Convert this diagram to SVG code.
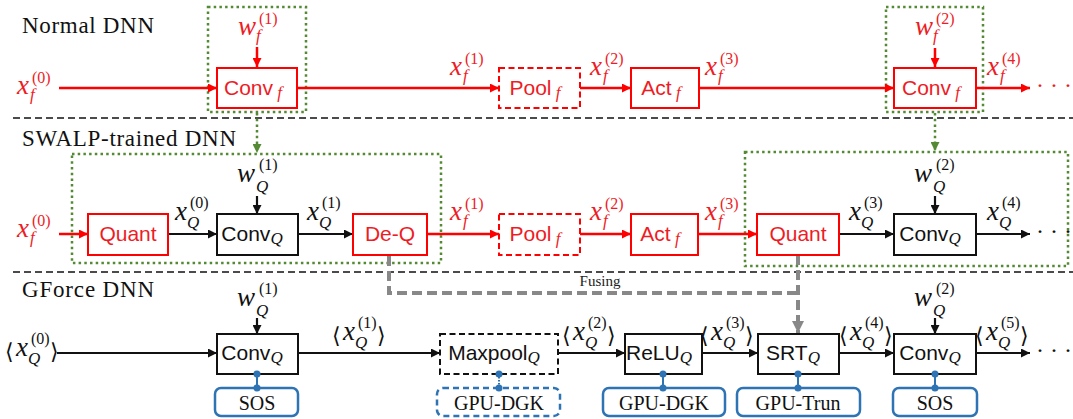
<svg xmlns="http://www.w3.org/2000/svg" width="1073" height="419" viewBox="0 0 1073 419">
<defs>
<style>
.title{font-family:"Liberation Serif",serif;font-size:23px;fill:#111}
.m{font-family:"Liberation Serif",serif;font-style:italic;font-size:27px}
.sup{font-family:"Liberation Serif",serif;font-size:16px}
.sub{font-family:"Liberation Serif",serif;font-style:italic;font-size:17px}
.br{font-family:"DejaVu Serif","DejaVu Sans",serif;font-size:22px}
.bt{font-family:"Liberation Sans","DejaVu Sans",sans-serif;font-size:21px;text-anchor:middle}
.bs{font-family:"Liberation Serif",serif;font-style:italic;font-size:17px}
.gt{font-family:"Liberation Serif",serif;font-size:20px;text-anchor:middle;fill:#111}
.red{fill:#ee1c25}
.blk{fill:#111}
.rbox{fill:#fff;stroke:#ff0000;stroke-width:2}
.kbox{fill:#fff;stroke:#111;stroke-width:2}
.dash{stroke-dasharray:6 3.5}
.green{fill:none;stroke:#558a35;stroke-width:2.5;stroke-dasharray:2.5 3.2}
.blue{fill:#fff;stroke:#2e74b5;stroke-width:2.5}
.rl{stroke:#ff0000;stroke-width:2.5;fill:none}
.kl{stroke:#111;stroke-width:2.2;fill:none}
.sep{stroke:#111;stroke-width:1.6;stroke-dasharray:7 4;fill:none}
.gray{stroke:#888;stroke-width:4;stroke-dasharray:10 5;fill:none}
.dot{fill:#2e74b5}
.bl{stroke:#2e74b5;stroke-width:2}
</style>
<marker id="ar" viewBox="0 0 10 10" refX="10" refY="5" markerWidth="10" markerHeight="9" markerUnits="userSpaceOnUse" orient="auto"><path d="M0,0 L10,5 L0,10 z" fill="#ff0000"/></marker>
<marker id="ak" viewBox="0 0 10 10" refX="10" refY="5" markerWidth="10" markerHeight="9" markerUnits="userSpaceOnUse" orient="auto"><path d="M0,0 L10,5 L0,10 z" fill="#111"/></marker>
<marker id="ag" viewBox="0 0 10 10" refX="10" refY="5" markerWidth="10" markerHeight="9" markerUnits="userSpaceOnUse" orient="auto"><path d="M0,0 L10,5 L0,10 z" fill="#558a35"/></marker>
<marker id="ay" viewBox="0 0 10 10" refX="10" refY="5" markerWidth="12" markerHeight="13" markerUnits="userSpaceOnUse" orient="auto"><path d="M0,0 L10,5 L0,10 z" fill="#888"/></marker>
</defs>
<rect width="1073" height="419" fill="#fff"/>

<text class="title" x="22" y="33" textLength="132">Normal DNN</text>
<text class="title" x="22" y="146" textLength="214">SWALP-trained DNN</text>
<text class="title" x="22" y="297" textLength="132">GForce DNN</text>

<g id="separators">
<line class="sep" x1="13" y1="118" x2="1073" y2="118"/>
<line class="sep" x1="13" y1="272" x2="1073" y2="272"/>
</g>

<g id="groups">
<rect class="green" x="208" y="7" width="98" height="105"/>
<rect class="green" x="886" y="7" width="97" height="105"/>
<rect class="green" x="72" y="154" width="369" height="109"/>
<rect class="green" x="745" y="152" width="323" height="114"/>
</g>

<g id="connectors">
<line class="rl" x1="59" y1="88" x2="217" y2="88" marker-end="url(#ar)"/>
<line class="rl" x1="257" y1="47" x2="257" y2="67" marker-end="url(#ar)"/>
<line class="rl" x1="297" y1="88" x2="499" y2="88" marker-end="url(#ar)"/>
<line class="rl" x1="580" y1="88" x2="631" y2="88" marker-end="url(#ar)"/>
<line class="rl" x1="699" y1="88" x2="894" y2="88" marker-end="url(#ar)"/>
<line class="rl" x1="935" y1="48" x2="935" y2="67" marker-end="url(#ar)"/>
<line class="rl" x1="976" y1="88" x2="1030" y2="88" marker-end="url(#ar)"/>
<line class="green" x1="257" y1="113" x2="257" y2="153" marker-end="url(#ag)"/>
<line class="green" x1="935" y1="113" x2="935" y2="151" marker-end="url(#ag)"/>
<line class="rl" x1="59" y1="234" x2="88" y2="234" marker-end="url(#ar)"/>
<line class="kl" x1="168" y1="234" x2="217" y2="234" marker-end="url(#ak)"/>
<line class="kl" x1="257" y1="196" x2="257" y2="214" marker-end="url(#ak)"/>
<line class="kl" x1="298" y1="234" x2="353" y2="234" marker-end="url(#ak)"/>
<line class="rl" x1="427" y1="234" x2="499" y2="234" marker-end="url(#ar)"/>
<line class="rl" x1="580" y1="234" x2="631" y2="234" marker-end="url(#ar)"/>
<line class="rl" x1="698" y1="234" x2="757" y2="234" marker-end="url(#ar)"/>
<line class="kl" x1="839" y1="234" x2="894" y2="234" marker-end="url(#ak)"/>
<line class="kl" x1="935" y1="196" x2="935" y2="214" marker-end="url(#ak)"/>
<line class="kl" x1="976" y1="234" x2="1030" y2="234" marker-end="url(#ak)"/>
<path class="gray" d="M389,256 V293 H798"/>
<line class="gray" x1="798" y1="255" x2="798" y2="333" marker-end="url(#ay)"/>
<line class="kl" x1="57" y1="353" x2="217" y2="353" marker-end="url(#ak)"/>
<line class="kl" x1="257" y1="318" x2="257" y2="334" marker-end="url(#ak)"/>
<line class="kl" x1="298" y1="353" x2="440" y2="353" marker-end="url(#ak)"/>
<line class="kl" x1="558" y1="353" x2="625" y2="353" marker-end="url(#ak)"/>
<line class="kl" x1="702" y1="353" x2="758" y2="353" marker-end="url(#ak)"/>
<line class="kl" x1="839" y1="353" x2="894" y2="353" marker-end="url(#ak)"/>
<line class="kl" x1="935" y1="318" x2="935" y2="334" marker-end="url(#ak)"/>
<line class="kl" x1="976" y1="353" x2="1030" y2="353" marker-end="url(#ak)"/>
<line class="bl" x1="257" y1="374" x2="257" y2="388"/>
<line class="bl" x1="499" y1="374" x2="499" y2="388" stroke-dasharray="1.5 1.5"/>
<line class="bl" x1="663" y1="374" x2="663" y2="388"/>
<line class="bl" x1="798" y1="374" x2="798" y2="388"/>
<line class="bl" x1="935" y1="374" x2="935" y2="388"/>
</g>

<g id="labels">
<g class="red">
<text class="m" x="17" y="94">x</text><text class="sup" x="32" y="83">(0)</text><text class="sub" x="30" y="100">f</text>
<text class="m" x="238" y="35">w</text><text class="sup" x="259" y="24">(1)</text><text class="sub" x="256" y="41">f</text>
<text class="m" x="450" y="75">x</text><text class="sup" x="465" y="64">(1)</text><text class="sub" x="463" y="81">f</text>
<text class="m" x="590" y="75">x</text><text class="sup" x="605" y="64">(2)</text><text class="sub" x="603" y="81">f</text>
<text class="m" x="705" y="75">x</text><text class="sup" x="720" y="64">(3)</text><text class="sub" x="718" y="81">f</text>
<text class="m" x="915" y="35">w</text><text class="sup" x="936" y="24">(2)</text><text class="sub" x="933" y="41">f</text>
<text class="m" x="987" y="75">x</text><text class="sup" x="1002" y="64">(4)</text><text class="sub" x="1000" y="81">f</text>
<text x="1036" y="93" style="font-family:'Liberation Serif',serif;font-size:24px">· · ·</text>
</g>
<g class="red">
<text class="m" x="17" y="237">x</text><text class="sup" x="32" y="226">(0)</text><text class="sub" x="30" y="243">f</text>
<text class="m" x="450" y="220">x</text><text class="sup" x="465" y="209">(1)</text><text class="sub" x="463" y="226">f</text>
<text class="m" x="590" y="220">x</text><text class="sup" x="605" y="209">(2)</text><text class="sub" x="603" y="226">f</text>
<text class="m" x="705" y="220">x</text><text class="sup" x="720" y="209">(3)</text><text class="sub" x="718" y="226">f</text>
</g>
<g class="blk">
<text class="m" x="175" y="220">x</text><text class="sup" x="190" y="208">(0)</text><text class="sub" x="187" y="228">Q</text>
<text class="m" x="237" y="182">w</text><text class="sup" x="259" y="170">(1)</text><text class="sub" x="256" y="192">Q</text>
<text class="m" x="307" y="220">x</text><text class="sup" x="322" y="208">(1)</text><text class="sub" x="319" y="228">Q</text>
<text class="m" x="849" y="220">x</text><text class="sup" x="864" y="208">(3)</text><text class="sub" x="861" y="228">Q</text>
<text class="m" x="914" y="182">w</text><text class="sup" x="936" y="170">(2)</text><text class="sub" x="933" y="192">Q</text>
<text class="m" x="987" y="220">x</text><text class="sup" x="1002" y="208">(4)</text><text class="sub" x="999" y="228">Q</text>
<text x="1036" y="239" style="font-family:'Liberation Serif',serif;font-size:24px">· · ·</text>
</g>
<g class="blk">
<text class="br" x="5" y="359">⟨</text><text class="m" x="16" y="356">x</text><text class="sup" x="31" y="344">(0)</text><text class="sub" x="28" y="364">Q</text><text class="br" x="50" y="359">⟩</text>
<text class="m" x="237" y="306">w</text><text class="sup" x="259" y="294">(1)</text><text class="sub" x="256" y="316">Q</text>
<text class="br" x="332" y="343">⟨</text><text class="m" x="343" y="340">x</text><text class="sup" x="358" y="328">(1)</text><text class="sub" x="355" y="348">Q</text><text class="br" x="377" y="343">⟩</text>
<text class="br" x="562" y="343">⟨</text><text class="m" x="573" y="340">x</text><text class="sup" x="588" y="328">(2)</text><text class="sub" x="585" y="348">Q</text><text class="br" x="607" y="343">⟩</text>
<text class="br" x="700" y="343">⟨</text><text class="m" x="711" y="340">x</text><text class="sup" x="726" y="328">(3)</text><text class="sub" x="723" y="348">Q</text><text class="br" x="745" y="343">⟩</text>
<text class="br" x="839" y="343">⟨</text><text class="m" x="850" y="340">x</text><text class="sup" x="865" y="328">(4)</text><text class="sub" x="862" y="348">Q</text><text class="br" x="884" y="343">⟩</text>
<text class="br" x="975" y="343">⟨</text><text class="m" x="986" y="340">x</text><text class="sup" x="1001" y="328">(5)</text><text class="sub" x="998" y="348">Q</text><text class="br" x="1020" y="343">⟩</text>
<text class="m" x="914" y="306">w</text><text class="sup" x="936" y="294">(2)</text><text class="sub" x="933" y="316">Q</text>
<text x="1036" y="358" style="font-family:'Liberation Serif',serif;font-size:24px">· · ·</text>
</g>
<text x="600" y="286" style="font-family:'Liberation Serif',serif;font-size:15px;text-anchor:middle;fill:#222">Fusing</text>
</g>

<g id="n1-conv1"><rect class="rbox" x="217" y="68" width="80" height="40"/><text class="bt red" x="253" y="95">Conv<tspan class="bs" dy="3"> f</tspan></text></g>
<g id="n1-pool"><rect class="rbox dash" x="499" y="68" width="81" height="40"/><text class="bt red" x="535" y="95">Pool<tspan class="bs" dy="3"> f</tspan></text></g>
<g id="n1-act"><rect class="rbox" x="631" y="68" width="68" height="40"/><text class="bt red" x="661" y="95">Act<tspan class="bs" dy="3"> f</tspan></text></g>
<g id="n1-conv2"><rect class="rbox" x="894" y="68" width="82" height="40"/><text class="bt red" x="931" y="95">Conv<tspan class="bs" dy="3"> f</tspan></text></g>

<g id="n2-quant1"><rect class="rbox" x="88" y="214" width="80" height="41"/><text class="bt red" x="128" y="241">Quant</text></g>
<g id="n2-conv1"><rect class="kbox" x="217" y="214" width="81" height="41"/><text class="bt blk" x="252" y="241">Conv<tspan class="bs" dy="3">Q</tspan></text></g>
<g id="n2-deq"><rect class="rbox" x="353" y="214" width="74" height="41"/><text class="bt red" x="390" y="241">De-Q</text></g>
<g id="n2-pool"><rect class="rbox dash" x="499" y="214" width="81" height="41"/><text class="bt red" x="535" y="241">Pool<tspan class="bs" dy="3"> f</tspan></text></g>
<g id="n2-act"><rect class="rbox" x="631" y="214" width="67" height="41"/><text class="bt red" x="660" y="241">Act<tspan class="bs" dy="3"> f</tspan></text></g>
<g id="n2-quant2"><rect class="rbox" x="757" y="214" width="82" height="41"/><text class="bt red" x="798" y="241">Quant</text></g>
<g id="n2-conv2"><rect class="kbox" x="894" y="214" width="82" height="41"/><text class="bt blk" x="930" y="241">Conv<tspan class="bs" dy="3">Q</tspan></text></g>

<g id="n3-conv1"><rect class="kbox" x="217" y="334" width="81" height="40"/><text class="bt blk" x="252" y="360">Conv<tspan class="bs" dy="3">Q</tspan></text></g>
<g id="n3-maxpool"><rect class="kbox dash" x="440" y="334" width="118" height="40"/><text class="bt blk" x="494" y="360">Maxpool<tspan class="bs" dy="3">Q</tspan></text></g>
<g id="n3-relu"><rect class="kbox" x="625" y="334" width="77" height="40"/><text class="bt blk" x="659" y="360">ReLU<tspan class="bs" dy="3">Q</tspan></text></g>
<g id="n3-srt"><rect class="kbox" x="758" y="334" width="81" height="40"/><text class="bt blk" x="793" y="360">SRT<tspan class="bs" dy="3">Q</tspan></text></g>
<g id="n3-conv2"><rect class="kbox" x="894" y="334" width="82" height="40"/><text class="bt blk" x="930" y="360">Conv<tspan class="bs" dy="3">Q</tspan></text></g>

<g id="k-sos1"><rect class="blue" x="215" y="388" width="83" height="28" rx="6"/><text class="gt" x="257" y="410">SOS</text></g>
<g id="k-dgk1"><rect class="blue" x="437" y="388" width="123" height="28" rx="6" stroke-dasharray="6 4"/><text class="gt" x="499" y="410">GPU-DGK</text></g>
<g id="k-dgk2"><rect class="blue" x="603" y="388" width="122" height="28" rx="6"/><text class="gt" x="664" y="410">GPU-DGK</text></g>
<g id="k-trun"><rect class="blue" x="737" y="388" width="123" height="28" rx="6"/><text class="gt" x="798" y="410">GPU-Trun</text></g>
<g id="k-sos2"><rect class="blue" x="893" y="388" width="84" height="28" rx="6"/><text class="gt" x="935" y="410">SOS</text></g>
<g id="dots">
<circle class="dot" cx="257" cy="374" r="3.5"/><circle class="dot" cx="257" cy="388" r="3.5"/>
<circle class="dot" cx="499" cy="374" r="3.5"/><circle class="dot" cx="499" cy="388" r="3.5"/>
<circle class="dot" cx="663" cy="374" r="3.5"/><circle class="dot" cx="663" cy="388" r="3.5"/>
<circle class="dot" cx="798" cy="374" r="3.5"/><circle class="dot" cx="798" cy="388" r="3.5"/>
<circle class="dot" cx="935" cy="374" r="3.5"/><circle class="dot" cx="935" cy="388" r="3.5"/>
</g>
</svg>
